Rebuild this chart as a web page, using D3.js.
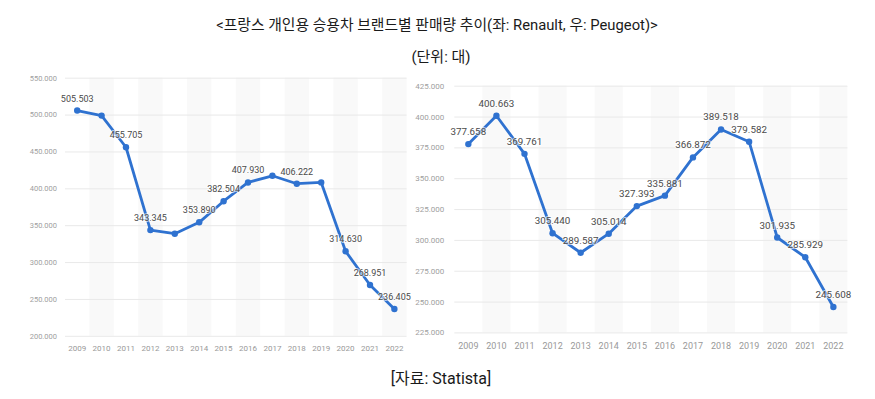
<!DOCTYPE html>
<html>
<head>
<meta charset="utf-8">
<script src="https://cdn.jsdelivr.net/npm/d3@7"></script>
<style>
  body { margin: 0; background: #fff; }
  svg { display: block; }
</style>
</head>
<body>
<svg id="chart" width="875" height="399"></svg>
<script>
var years = ["2009", "2010", "2011", "2012", "2013", "2014", "2015", "2016", "2017", "2018", "2019", "2020", "2021", "2022"];

// Renault (left)
var renaultValues = [505503, 498600, 455705, 343345, 338400, 353890, 382504, 407930, 417000, 406222, 408000, 314630, 268951, 236405];
var renaultShowLabel = [true, false, true, true, false, true, true, true, false, true, false, true, true, true];
var renaultTicks = [200000, 250000, 300000, 350000, 400000, 450000, 500000, 550000];

// Peugeot (right)
var peugeotValues = [377658, 400663, 369761, 305440, 289587, 305014, 327393, 335881, 366872, 389518, 379582, 301935, 285929, 245608];
var peugeotShowLabel = [true, true, true, true, true, true, true, true, true, true, true, true, true, true];
var peugeotTicks = [225000, 250000, 275000, 300000, 325000, 350000, 375000, 400000, 425000];

var titleText = "<프랑스 개인용 승용차 브랜드별 판매량 추이(좌: Renault, 우: Peugeot)>";
var unitText = "(단위: 대)";
var sourceText = "[자료: Statista]";

var locale = d3.formatLocale({decimal: ",", thousands: ".", grouping: [3], currency: ["", ""]});
var fmt = locale.format(",");

var svg = d3.select("#chart");
var lineColor = "#2f72d0";
var textFont = "Roboto, 'Noto Sans CJK KR', sans-serif";

svg.append("text")
    .attr("x", 437).attr("y", 30)
    .attr("text-anchor", "middle")
    .style("font-family", textFont)
    .style("font-size", "14.8px")
    .style("fill", "#1a1a1a")
    .text(titleText);

svg.append("text")
    .attr("x", 441).attr("y", 62)
    .attr("text-anchor", "middle")
    .style("font-family", textFont)
    .style("font-size", "15px")
    .style("fill", "#1a1a1a")
    .text(unitText);

svg.append("text")
    .attr("x", 441).attr("y", 384)
    .attr("text-anchor", "middle")
    .style("font-family", textFont)
    .style("font-size", "16px")
    .style("fill", "#1a1a1a")
    .text(sourceText);

function drawPanel(opts) {
    var g = svg.append("g");
    var xScale = d3.scaleBand().domain(years).range([opts.x0, opts.x1]).padding(0);
    var yScale = d3.scaleLinear().domain(opts.domain).range([opts.yBottom, opts.yTop]);

    // alternating column bands
    g.selectAll(".band").data(years.filter(function (d, i) { return i % 2 === 1; }))
        .enter().append("rect")
        .attr("class", "band")
        .attr("x", function (d) { return xScale(d); })
        .attr("y", opts.yTop)
        .attr("width", xScale.bandwidth())
        .attr("height", opts.yBottom - opts.yTop)
        .style("fill", "#f9f9f9");

    // gridlines + y labels
    var yAxis = d3.axisLeft(yScale)
        .tickValues(opts.ticks)
        .tickSize(-(opts.x1 - opts.x0))
        .tickPadding(opts.labelGap)
        .tickFormat(fmt);
    var ya = g.append("g")
        .attr("transform", "translate(" + opts.x0 + ",0)")
        .call(yAxis);
    ya.select(".domain").remove();
    ya.selectAll("line").style("stroke", "#e9e9e9");
    ya.selectAll("text")
        .style("font-family", textFont)
        .style("font-size", opts.tickFont)
        .style("fill", "#a0a0a0");

    // x labels
    var xAxis = d3.axisBottom(xScale).tickSize(0).tickPadding(opts.yearGap);
    var xa = g.append("g")
        .attr("transform", "translate(0," + opts.yBottom + ")")
        .call(xAxis);
    xa.select(".domain").remove();
    xa.selectAll("text")
        .style("font-family", textFont)
        .style("font-size", opts.yearFont)
        .style("fill", "#999");

    var pts = years.map(function (y, i) {
        return {label: y, value: opts.values[i], show: opts.show[i]};
    });
    var cx = function (d) { return xScale(d.label) + xScale.bandwidth() / 2; };

    g.append("path")
        .datum(pts)
        .attr("d", d3.line().x(cx).y(function (d) { return yScale(d.value); }))
        .attr("fill", "none")
        .attr("stroke", lineColor)
        .attr("stroke-width", 2.8)
        .attr("stroke-linejoin", "round");

    g.selectAll(".pt").data(pts).enter().append("circle")
        .attr("class", "pt")
        .attr("cx", cx)
        .attr("cy", function (d) { return yScale(d.value); })
        .attr("r", 3.2)
        .attr("fill", lineColor);

    g.selectAll(".val").data(pts.filter(function (d) { return d.show; }))
        .enter().append("text")
        .attr("class", "val")
        .attr("x", cx)
        .attr("y", function (d) { return yScale(d.value) - 9; })
        .attr("text-anchor", "middle")
        .style("font-family", textFont)
        .style("font-size", opts.valFont)
        .style("fill", "#4a4a4a")
        .style("stroke", "#fff")
        .style("stroke-width", 2)
        .style("stroke-opacity", 0.6)
        .style("paint-order", "stroke")
        .text(function (d) { return fmt(d.value); });
}

drawPanel({
    x0: 65, x1: 406.6, yTop: 77.7, yBottom: 335.8,
    domain: [200000, 550000], ticks: renaultTicks,
    values: renaultValues, show: renaultShowLabel,
    labelGap: 8, yearGap: 10,
    tickFont: "7.5px", yearFont: "8px", valFont: "9px"
});

drawPanel({
    x0: 454.3, x1: 847.4, yTop: 85.7, yBottom: 332.4,
    domain: [225000, 425000], ticks: peugeotTicks,
    values: peugeotValues, show: peugeotShowLabel,
    labelGap: 10, yearGap: 10,
    tickFont: "8px", yearFont: "9px", valFont: "9.8px"
});
</script>
</body>
</html>
